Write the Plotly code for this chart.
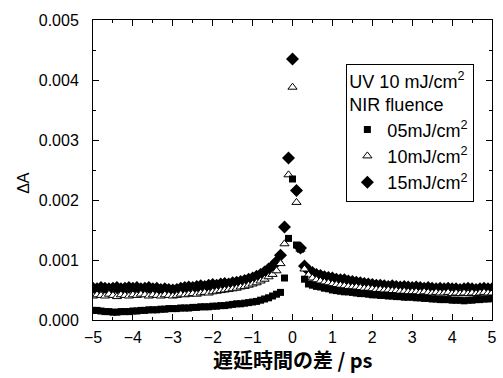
import plotly.graph_objects as go

# delay time (ps)
delay_ps = [
    -5.0, -4.9, -4.8, -4.7, -4.6, -4.5, -4.4, -4.3, -4.2, -4.1,
    -4.0, -3.9, -3.8, -3.7, -3.6, -3.5, -3.4, -3.3, -3.2, -3.1,
    -3.0, -2.9, -2.8, -2.7, -2.6, -2.5, -2.4, -2.3, -2.2, -2.1,
    -2.0, -1.9, -1.8, -1.7, -1.6, -1.5, -1.4, -1.3, -1.2, -1.1,
    -1.0, -0.9, -0.8, -0.7, -0.6, -0.5, -0.4, -0.3, -0.2, -0.1,
    0.0,
    0.1, 0.2, 0.3, 0.4, 0.5, 0.6, 0.7, 0.8, 0.9, 1.0,
    1.1, 1.2, 1.3, 1.4, 1.5, 1.6, 1.7, 1.8, 1.9, 2.0,
    2.1, 2.2, 2.3, 2.4, 2.5, 2.6, 2.7, 2.8, 2.9, 3.0,
    3.1, 3.2, 3.3, 3.4, 3.5, 3.6, 3.7, 3.8, 3.9, 4.0,
    4.1, 4.2, 4.3, 4.4, 4.5, 4.6, 4.7, 4.8, 4.9, 5.0,
]

# NIR 05 mJ/cm2 (squares)
dA_05 = [
    0.00016, 0.00016, 0.00015, 0.00014, 0.00014, 0.00013, 0.00013, 0.00014, 0.00014, 0.00014,
    0.00015, 0.00015, 0.00016, 0.00016, 0.00017, 0.00017, 0.00017, 0.00018, 0.00018, 0.00019,
    0.00019, 0.00019, 0.00020, 0.00020, 0.00020, 0.00021, 0.00021, 0.00022, 0.00022, 0.00022,
    0.00023, 0.00023, 0.00024, 0.00024, 0.00025, 0.00026, 0.00027, 0.00027, 0.00028, 0.00029,
    0.00030, 0.00031, 0.00033, 0.00035, 0.00037, 0.00040, 0.00043, 0.00046, 0.00070, 0.00136,
    0.00235,
    0.00125, 0.00118, 0.00068, 0.00060, 0.00058, 0.00056, 0.00055, 0.00053, 0.00052, 0.00050,
    0.00049, 0.00048, 0.00047, 0.00047, 0.00046, 0.00045, 0.00044, 0.00044, 0.00043, 0.00042,
    0.00042, 0.00041, 0.00041, 0.00040, 0.00040, 0.00039, 0.00039, 0.00038, 0.00038, 0.00038,
    0.00037, 0.00037, 0.00036, 0.00036, 0.00035, 0.00035, 0.00034, 0.00034, 0.00034, 0.00033,
    0.00033, 0.00033, 0.00032, 0.00033, 0.00033, 0.00034, 0.00034, 0.00035, 0.00035, 0.00036,
]

# NIR 10 mJ/cm2 (open triangles)
dA_10 = [
    0.00040, 0.00042, 0.00041, 0.00040, 0.00043, 0.00041, 0.00039, 0.00042, 0.00041, 0.00040,
    0.00042, 0.00041, 0.00043, 0.00042, 0.00040, 0.00042, 0.00041, 0.00040, 0.00042, 0.00041,
    0.00040, 0.00041, 0.00043, 0.00042, 0.00043, 0.00044, 0.00043, 0.00045, 0.00046, 0.00045,
    0.00047, 0.00048, 0.00049, 0.00050, 0.00051, 0.00052, 0.00053, 0.00055, 0.00056, 0.00058,
    0.00060, 0.00062, 0.00065, 0.00068, 0.00072, 0.00076, 0.00082, 0.00094, 0.00127, 0.00242,
    0.00388,
    0.00196, 0.00118, 0.00085, 0.00075, 0.00070, 0.00067, 0.00065, 0.00063, 0.00062, 0.00060,
    0.00059, 0.00058, 0.00057, 0.00056, 0.00055, 0.00055, 0.00054, 0.00053, 0.00053, 0.00052,
    0.00051, 0.00051, 0.00050, 0.00050, 0.00049, 0.00049, 0.00048, 0.00048, 0.00047, 0.00047,
    0.00047, 0.00046, 0.00047, 0.00046, 0.00045, 0.00046, 0.00045, 0.00045, 0.00046, 0.00044,
    0.00045, 0.00044, 0.00045, 0.00044, 0.00045, 0.00044, 0.00045, 0.00046, 0.00045, 0.00045,
]

# NIR 15 mJ/cm2 (diamonds)
dA_15 = [
    0.00053, 0.00052, 0.00054, 0.00053, 0.00052, 0.00053, 0.00054, 0.00052, 0.00053, 0.00054,
    0.00053, 0.00054, 0.00052, 0.00053, 0.00054, 0.00052, 0.00053, 0.00051, 0.00052, 0.00051,
    0.00050, 0.00051, 0.00053, 0.00054, 0.00055, 0.00054, 0.00056, 0.00057, 0.00056, 0.00058,
    0.00059, 0.00058, 0.00060, 0.00061, 0.00060, 0.00062, 0.00063, 0.00064, 0.00066, 0.00068,
    0.00070, 0.00073, 0.00076, 0.00080, 0.00085, 0.00090, 0.00097, 0.00108, 0.00155, 0.00270,
    0.00435,
    0.00216, 0.00120, 0.00090, 0.00083, 0.00079, 0.00076, 0.00074, 0.00072, 0.00071, 0.00070,
    0.00068, 0.00067, 0.00067, 0.00065, 0.00064, 0.00063, 0.00062, 0.00061, 0.00060, 0.00059,
    0.00058, 0.00058, 0.00057, 0.00056, 0.00057, 0.00056, 0.00055, 0.00056, 0.00055, 0.00054,
    0.00055, 0.00054, 0.00053, 0.00054, 0.00053, 0.00052, 0.00053, 0.00052, 0.00053, 0.00052,
    0.00052, 0.00051, 0.00052, 0.00053, 0.00052, 0.00051, 0.00052, 0.00053, 0.00052, 0.00052,
]

names = ["05mJ/cm<sup>2</sup>", "10mJ/cm<sup>2</sup>", "15mJ/cm<sup>2</sup>"]
legend_title = "UV 10 mJ/cm<sup>2</sup><br>NIR fluence"
x_title = "<b>遅延時間の差 / ps</b>"
y_title = "ΔA"

FONT = "Arial, Liberation Sans, sans-serif"

fig = go.Figure()
# draw order: diamonds, triangles, squares (legend order kept via legendrank)
fig.add_trace(go.Scatter(
    x=delay_ps, y=dA_15, mode="markers", name=names[2], legendrank=3,
    marker=dict(symbol="diamond", size=10, color="black", line=dict(width=0)),
))
fig.add_trace(go.Scatter(
    x=delay_ps, y=dA_10, mode="markers", name=names[1], legendrank=2,
    marker=dict(symbol="triangle-up", size=8, color="white",
                line=dict(width=1, color="black")),
))
fig.add_trace(go.Scatter(
    x=delay_ps, y=dA_05, mode="markers", name=names[0], legendrank=1,
    marker=dict(symbol="square", size=7, color="black", line=dict(width=0)),
))

axis_common = dict(
    showline=True, linecolor="black", linewidth=1, mirror="ticks",
    ticks="inside", ticklen=6, tickwidth=1, tickcolor="black",
    showgrid=False, zeroline=False,
    tickfont=dict(family=FONT, size=16, color="black"),
    ticklabeloverflow="allow",
)

fig.update_xaxes(
    range=[-5, 5], dtick=1, tick0=0,
    minor=dict(dtick=0.5, ticks="inside", ticklen=3, tickcolor="black", showgrid=False),
    ticklabelstandoff=3,
    **axis_common,
)
fig.update_yaxes(
    range=[0, 0.005], dtick=0.001, tick0=0, tickformat=".3f",
    minor=dict(dtick=0.0005, ticks="inside", ticklen=3, tickcolor="black", showgrid=False),
    ticklabelstandoff=10,
    **axis_common,
)

fig.update_layout(
    width=503, height=378,
    margin=dict(l=93, r=6, t=20, b=58),
    paper_bgcolor="white", plot_bgcolor="white",
    font=dict(family=FONT, color="black"),
    showlegend=True,
    legend=dict(
        title=dict(text=legend_title, font=dict(family=FONT, size=18, color="black")),
        font=dict(family=FONT, size=18, color="black"),
        x=0.635, y=0.855, xanchor="left", yanchor="top",
        bordercolor="black", borderwidth=1, bgcolor="white",
        itemwidth=30, tracegroupgap=0,
    ),
    annotations=[
        dict(text=x_title, xref="x", yref="paper", x=0, y=-0.133,
             xanchor="center", yanchor="middle", showarrow=False,
             font=dict(family="Noto Sans CJK JP, sans-serif", size=20, color="black")),
        dict(text=y_title, xref="paper", yref="paper", x=-0.173, y=0.457,
             xanchor="center", yanchor="middle", showarrow=False, textangle=-90,
             font=dict(family=FONT, size=16, color="black")),
    ],
)

fig.write_html("out.html", config={"displayModeBar": False},
               post_script="document.body.style.margin='0px';")
